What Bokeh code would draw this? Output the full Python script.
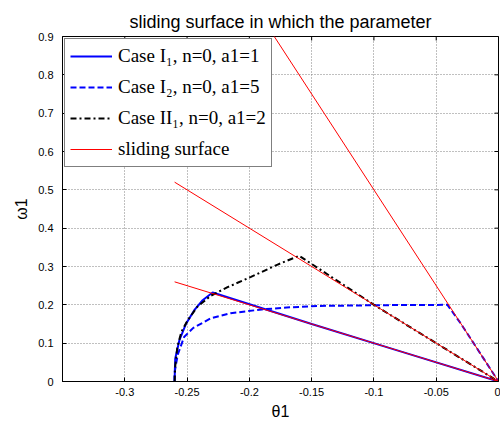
import math
from bokeh.plotting import figure
from bokeh.models import Range1d, FixedTicker, Legend, LegendItem
from bokeh.embed import file_html
from bokeh.resources import INLINE

# ---- data ----
x_ticks = [-0.3, -0.25, -0.2, -0.15, -0.1, -0.05, 0.0]
x_tick_labels = ["-0.3", "-0.25", "-0.2", "-0.15", "-0.1", "-0.05", "0"]
y_ticks = [0.0, 0.1, 0.2, 0.3, 0.4, 0.5, 0.6, 0.7, 0.8, 0.9]
y_tick_labels = ["0", "0.1", "0.2", "0.3", "0.4", "0.5", "0.6", "0.7", "0.8", "0.9"]

# Case I1, n=0, a1=1 (blue solid)
c1_theta = [-0.26, -0.2598, -0.2595, -0.2562, -0.2508, -0.2442, -0.2375, -0.2295, -0.15, -0.08, 0.0]
c1_omega = [0.0, 0.03, 0.06, 0.107, 0.151, 0.186, 0.212, 0.232, 0.150, 0.080, 0.0]

# Case I2, n=0, a1=5 (blue dashed)
c2_theta = [-0.26, -0.2602, -0.2575, -0.2524, -0.245, -0.2308, -0.215, -0.19, -0.17, -0.145, -0.10, -0.041, -0.03, -0.02, -0.01, 0.0]
c2_omega = [0.0, 0.02, 0.07, 0.116, 0.14, 0.165, 0.178, 0.188, 0.193, 0.197, 0.199, 0.200, 0.150, 0.100, 0.050, 0.0]

# Case II1, n=0, a1=2 (black dash-dot)
c3_theta = [-0.26, -0.2595, -0.2578, -0.2545, -0.2494, -0.2418, -0.2308, -0.2175, -0.1987, -0.1773, -0.160, -0.10, -0.05, 0.0]
c3_omega = [0.0, 0.04, 0.09, 0.13, 0.16, 0.195, 0.224, 0.246, 0.273, 0.305, 0.328, 0.200, 0.100, 0.0]

# sliding surfaces omega = -a1 * theta
surf_theta = [-0.26, 0.0]
surf_a1_1 = [0.26, 0.0]
surf_a1_2 = [0.52, 0.0]
surf_a1_5 = [1.30, 0.0]

X_MIN, X_MAX, Y_MIN, Y_MAX = -0.35, 0.0, 0.0, 0.9

p = figure(width=500, height=426, x_range=Range1d(X_MIN, X_MAX), y_range=Range1d(Y_MIN, Y_MAX),
           output_backend="svg", toolbar_location=None,
           min_border_left=62, min_border_right=2, min_border_top=36, min_border_bottom=45)

p.title.text = "sliding surface in which the parameter"
p.title.align = "center"
p.title.text_font = "Liberation Sans"
p.title.text_font_size = "18px"
p.title.text_font_style = "normal"
p.title.text_color = "#000000"

p.background_fill_color = "white"
p.border_fill_color = "white"
p.outline_line_color = "black"
p.outline_line_width = 1

p.xaxis.ticker = FixedTicker(ticks=x_ticks)
p.yaxis.ticker = FixedTicker(ticks=y_ticks)
p.xaxis.major_label_overrides = dict(zip(x_ticks, x_tick_labels))
p.yaxis.major_label_overrides = dict(zip(y_ticks, y_tick_labels))
for ax in (p.xaxis, p.yaxis):
    ax.major_tick_in = 4
    ax.major_tick_out = 0
    ax.minor_tick_in = 0
    ax.minor_tick_out = 0
    ax.major_label_text_font = "Liberation Sans"
    ax.major_label_text_font_size = "11px"
    ax.major_label_text_color = "black"
    ax.axis_line_color = "black"
    ax.major_tick_line_color = "black"
    ax.axis_label_text_font = "Liberation Sans"
    ax.axis_label_text_font_size = "16px"
    ax.axis_label_text_font_style = "normal"
    ax.axis_label_text_color = "black"
p.xaxis.axis_label = "θ1"
p.yaxis.axis_label = "ω1"
p.xaxis.major_label_standoff = 6
p.yaxis.major_label_standoff = 9
p.xaxis.axis_label_standoff = 4
p.yaxis.axis_label_standoff = 5

p.grid.grid_line_color = "#808080"
p.grid.grid_line_dash = "1 2"
p.grid.grid_line_width = 1

# inward tick marks on the top and right edges of the box
p.scatter(x_ticks, [Y_MAX] * len(x_ticks), marker="dash", size=8, angle=math.pi / 2,
          line_color="black", line_width=1)
p.scatter([X_MAX] * len(y_ticks), y_ticks, marker="dash", size=8,
          line_color="black", line_width=1)

r1 = p.line(c1_theta, c1_omega, line_color="#0000ff", line_width=2)
r2 = p.line(c2_theta, c2_omega, line_color="#0000ff", line_width=2, line_dash="6 3")
r3 = p.line(c3_theta, c3_omega, line_color="black", line_width=2, line_dash="6 3 2 3")
s1 = p.line(surf_theta, surf_a1_1, line_color="#ff0000", line_width=1)
s2 = p.line(surf_theta, surf_a1_2, line_color="#ff0000", line_width=1)
s3 = p.line(surf_theta, surf_a1_5, line_color="#ff0000", line_width=1)

legend = Legend(items=[
    LegendItem(label="Case I₁, n=0, a1=1", renderers=[r1]),
    LegendItem(label="Case I₂, n=0, a1=5", renderers=[r2]),
    LegendItem(label="Case II₁, n=0, a1=2", renderers=[r3]),
    LegendItem(label="sliding surface", renderers=[s1]),
], location="top_left")
legend.margin = 2
legend.padding = 5
legend.spacing = 7
legend.label_height = 24
legend.glyph_height = 24
legend.glyph_width = 42
legend.label_standoff = 6
legend.label_text_font = "Liberation Serif"
legend.label_text_font_size = "19px"
legend.label_text_color = "black"
legend.border_line_color = "black"
legend.border_line_width = 1
legend.background_fill_color = "white"
legend.background_fill_alpha = 1
p.add_layout(legend, "center")

open("out.html", "w").write(file_html(p, INLINE))
